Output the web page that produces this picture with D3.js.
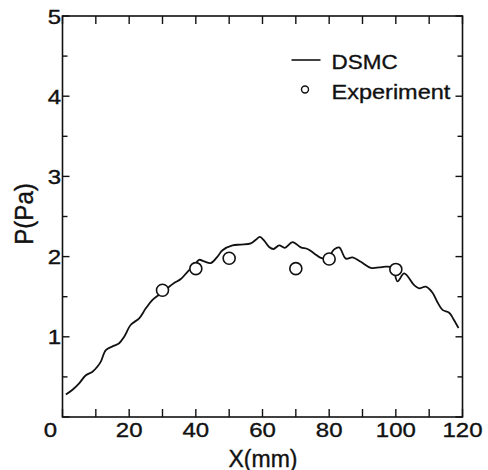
<!DOCTYPE html>
<html>
<head>
<meta charset="utf-8">
<script src="https://cdn.jsdelivr.net/npm/d3@7"></script>
<style>
body{margin:0;background:#fff;}
svg{display:block;}
text{font-family:"Liberation Sans",Arial,Helvetica,sans-serif;fill:#111;stroke:#111;stroke-width:0.35px;}
</style>
</head>
<body>
<svg id="chart" width="488" height="470"></svg>
<script>
const dsmcX = [1,3,5,7,9,10.5,11.5,13,15,17,18.5,20.5,23,25,27,29.5,32,33.5,35.5,37.5,39.5,41,42.5,44.5,46.5,48,51,53.5,56.5,58,59.2,60.5,62,63.3,65,66.7,69,71.5,73.5,75.5,77.5,79.5,81.5,83,85,87,89.5,92.5,95,97,99,100.5,102.5,105.5,107,109,111,112.5,114,116,117.3,118.8];
const dsmcY = [0.28,0.34,0.42,0.52,0.565,0.63,0.69,0.835,0.88,0.92,1.0,1.15,1.23,1.355,1.46,1.54,1.625,1.67,1.72,1.81,1.89,1.96,1.94,1.92,2.0,2.08,2.14,2.15,2.165,2.21,2.245,2.2,2.12,2.095,2.14,2.11,2.18,2.115,2.095,2.04,1.985,1.98,2.09,2.115,1.975,1.99,1.935,1.86,1.865,1.875,1.86,1.69,1.79,1.645,1.605,1.625,1.55,1.43,1.335,1.30,1.22,1.11];
const expX = [30,40,50,70,80,100];
const expY = [1.58,1.85,1.98,1.85,1.97,1.84];
const xTicks = [0,20,40,60,80,100,120];
const yTicks = [0,1,2,3,4,5];
const legendLabels = ["DSMC","Experiment"];
const xLabel = "X(mm)";
const yLabel = "P(Pa)";

const svg = d3.select("#chart");
const L = 62.5, R = 462.5, T = 16, B = 417;
const x = d3.scaleLinear().domain([0,120]).range([L,R]);
const y = d3.scaleLinear().domain([0,5]).range([B,T]);

const g = svg.append("g");
g.append("rect").attr("x",L).attr("y",T).attr("width",R-L).attr("height",B-T)
  .attr("fill","none").attr("stroke","#111").attr("stroke-width",1.6);

const xt = d3.range(0,121,10);
const yMinor = d3.range(0,5.01,0.5);
xt.forEach(v=>{
  g.append("line").attr("x1",x(v)).attr("x2",x(v)).attr("y1",B).attr("y2",B-8).attr("stroke","#111").attr("stroke-width",1.4);
  g.append("line").attr("x1",x(v)).attr("x2",x(v)).attr("y1",T).attr("y2",T+8).attr("stroke","#111").attr("stroke-width",1.4);
});
yMinor.forEach(v=>{
  const len = Math.abs(v-Math.round(v))<1e-6 ? 7 : 5;
  g.append("line").attr("x1",L).attr("x2",L+len).attr("y1",y(v)).attr("y2",y(v)).attr("stroke","#111").attr("stroke-width",1.4);
  g.append("line").attr("x1",R).attr("x2",R-len).attr("y1",y(v)).attr("y2",y(v)).attr("stroke","#111").attr("stroke-width",1.4);
});

xTicks.forEach(v=>{
  const px = v===0 ? x(v)-12 : x(v);
  g.append("text").attr("transform",`translate(${px},437) scale(1.2,1)`)
    .attr("text-anchor","middle").attr("font-size",20).text(v);
});
yTicks.filter(v=>v>0).forEach(v=>{
  g.append("text").attr("transform",`translate(${L-1.5},${y(v)+7.5}) scale(1.2,1)`)
    .attr("text-anchor","end").attr("font-size",20).text(v);
});

g.append("text").attr("transform","translate(263,466.5)").attr("text-anchor","middle")
  .attr("font-size",23).text(xLabel);
g.append("text").attr("transform","translate(33,214) rotate(-90) scale(1.05,1.1)").attr("text-anchor","middle")
  .attr("font-size",23).text(yLabel);

const data = dsmcX.map((d,i)=>[d,dsmcY[i]]);
g.append("path").datum(data)
  .attr("d",d3.line().x(d=>x(d[0])).y(d=>y(d[1])).curve(d3.curveCatmullRom.alpha(0.5)))
  .attr("fill","none").attr("stroke","#111").attr("stroke-width",1.8);

g.selectAll("circle.exp").data(expX.map((d,i)=>[d,expY[i]])).enter().append("circle")
  .attr("class","exp").attr("cx",d=>x(d[0])).attr("cy",d=>y(d[1])).attr("r",6)
  .attr("fill","#fff").attr("stroke","#111").attr("stroke-width",1.6);

g.append("line").attr("x1",291.5).attr("x2",320.5).attr("y1",60).attr("y2",60).attr("stroke","#111").attr("stroke-width",1.6);
g.append("text").attr("transform","translate(331.5,68.5) scale(1.07,1)").attr("font-size",21).text(legendLabels[0]);
g.append("circle").attr("cx",305).attr("cy",89.5).attr("r",3.5).attr("fill","#fff").attr("stroke","#111").attr("stroke-width",1.4);
g.append("text").attr("transform","translate(331.5,98.5) scale(1.12,1)").attr("font-size",21).text(legendLabels[1]);
</script>
</body>
</html>
